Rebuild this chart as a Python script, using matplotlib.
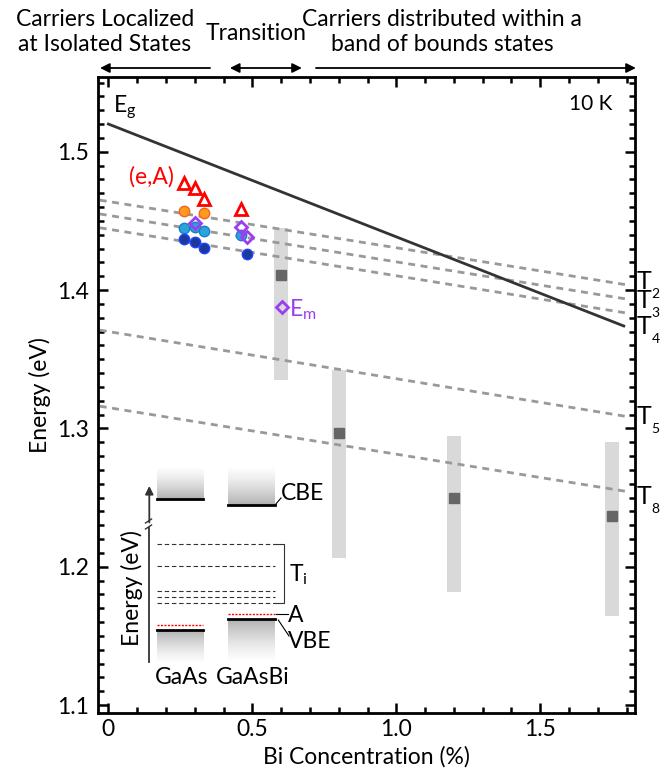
import numpy as np
import matplotlib
matplotlib.use("Agg")
import matplotlib.pyplot as plt
from matplotlib.ticker import MultipleLocator, FixedLocator

plt.rcParams['font.family'] = ['Lato', 'DejaVu Sans']
plt.rcParams['mathtext.fontset'] = 'custom'
plt.rcParams['mathtext.rm'] = 'Lato'
plt.rcParams['mathtext.it'] = 'Lato:italic'

# band gap line (end points)
eg_x = [0.0, 1.79]
eg_y = [1.520, 1.374]

# trap levels T2..T8 (end points)
trap_x = [-0.03, 1.805]
t2_y = [1.465, 1.4036]
t3_y = [1.455, 1.3933]
t4_y = [1.445, 1.3832]
t5_y = [1.371, 1.3084]
t8_y = [1.316, 1.2542]
trap_labels = ['2', '3', '4', '5', '8']

# (e,A) transitions
ea_x = [0.263, 0.301, 0.333, 0.462]
ea_y = [1.4772, 1.4735, 1.4656, 1.4584]
# PL peaks (circles)
orange_x = [0.263, 0.333]
orange_y = [1.4573, 1.4555]
lblue_x = [0.263, 0.301, 0.333, 0.462]
lblue_y = [1.4450, 1.4458, 1.4429, 1.4398]
dblue_x = [0.263, 0.301, 0.333, 0.481]
dblue_y = [1.4367, 1.4347, 1.4306, 1.4258]
# diamonds
diam_x = [0.301, 0.462, 0.481]
diam_y = [1.4487, 1.4453, 1.4385]
em_x = [0.602]
em_y = [1.3879]

# broad bands (range and peak)
band_x = [0.6, 0.8, 1.2, 1.75]
band_top = [1.4446, 1.3422, 1.2944, 1.2901]
band_bot = [1.3349, 1.2062, 1.1816, 1.1643]
band_peak = [1.4108, 1.2966, 1.2494, 1.2364]

# schematic trap levels in the inset
ti_levels = [84.3, 106, 130.7, 136.7, 142.7]

W, H = 663, 771
fig = plt.figure(figsize=(W / 100, H / 100), dpi=100)
ax = fig.add_axes([98.3 / W, 1 - 713.3 / H, (635 - 98.3) / W, (713.3 - 77) / H])

purple = '#9b3ef0'
fs = 16.5

ax.bar(band_x, np.array(band_top) - np.array(band_bot), bottom=band_bot,
       width=0.048, color='#d9d9d9', zorder=1)
for ty in [t2_y, t3_y, t4_y, t5_y, t8_y]:
    ax.plot(trap_x, ty, ls=(0, (2.5, 2.0)), color='#999999', lw=2, zorder=2)
ax.plot(eg_x, eg_y, color='#333333', lw=2, zorder=3)
ax.plot(band_x, band_peak, 's', ms=6.5, color='#666666', ls='none', zorder=4)

ax.plot(ea_x, ea_y, '^', ms=9, mfc='none', mec='red', mew=2, ls='none', zorder=5)
ax.plot(orange_x, orange_y, 'o', ms=7.5, mfc='#ff9a1a', mec='#f26522', mew=1, ls='none', zorder=5)
ax.plot(lblue_x, lblue_y, 'o', ms=7.5, mfc='#2aa3dc', mec='#1a7fc9', mew=1, ls='none', zorder=5)
ax.plot(dblue_x, dblue_y, 'o', ms=7.5, mfc='#1c3a9c', mec='#1f44ff', mew=1, ls='none', zorder=5)
ax.plot(diam_x, diam_y, 'D', ms=6.5, mfc='none', mec=purple, mew=2, ls='none', zorder=6)
ax.plot(em_x, em_y, 'D', ms=6.5, mfc='none', mec=purple, mew=2, ls='none', zorder=6)

ax.set_xlim(-0.035, 1.829)
ax.set_ylim(1.094, 1.554)
ax.xaxis.set_major_locator(FixedLocator([0, 0.5, 1.0, 1.5]))
ax.set_xticklabels(['0', '0.5', '1.0', '1.5'])
ax.xaxis.set_minor_locator(MultipleLocator(0.1))
ax.yaxis.set_major_locator(MultipleLocator(0.1))
ax.yaxis.set_minor_locator(MultipleLocator(0.01))
ax.tick_params(which='both', direction='in', top=True, right=True, width=1.8)
ax.tick_params(which='major', length=7, labelsize=fs)
ax.tick_params(which='minor', length=4)
ax.tick_params(axis='y', pad=7)
ax.tick_params(axis='x', pad=4)
for s in ax.spines.values():
    s.set_linewidth(2)

ax.set_xlabel('Bi Concentration (%)', fontsize=fs)
ax.set_ylabel('Energy (eV)', fontsize=fs)
ax.xaxis.set_label_coords(0.5, -0.052)
ax.yaxis.set_label_coords(-0.088, 0.5)

ax.text(0.017, 1.532, r'E$_\mathrm{g}$', fontsize=fs, va='center')
ax.text(1.752, 1.5345, '10 K', fontsize=15, ha='right', va='center')
ax.text(0.072, 1.4817, '(e,A)', fontsize=fs, color='red', va='center')
ax.text(0.627, 1.3855, r'E$_\mathrm{m}$', fontsize=fs, color=purple, va='center')

# right side trap labels: big T with small index below right
lab_y = [1.4058, 1.3921, 1.3733, 1.3086, 1.2507]
for lab, yy in zip(trap_labels, lab_y):
    ax.text(1.834, yy, 'T', fontsize=18, va='center', clip_on=False)
    ax.annotate(lab, xy=(1.834, yy), xytext=(10.8, -9), textcoords='offset points',
                fontsize=10, ha='left', va='center', annotation_clip=False)

# header arrows and captions
ya = 1.5605
arr = dict(lw=1.3, color='k', shrinkA=0, shrinkB=0, mutation_scale=14)
ax.annotate('', xy=(-0.029, ya), xytext=(0.353, ya), annotation_clip=False,
            arrowprops=dict(arrowstyle='-|>', **arr))
ax.annotate('', xy=(0.422, ya), xytext=(0.672, ya), annotation_clip=False,
            arrowprops=dict(arrowstyle='<|-|>', **arr))
ax.annotate('', xy=(1.832, ya), xytext=(0.721, ya), annotation_clip=False,
            arrowprops=dict(arrowstyle='-|>', **arr))
fig.text(105 / W, 1 - 32 / H, 'Carriers Localized\nat Isolated States', fontsize=fs,
         ha='center', va='center', linespacing=1.25)
fig.text(256 / W, 1 - 33 / H, 'Transition', fontsize=fs, ha='center', va='center')
fig.text(442 / W, 1 - 32 / H, 'Carriers distributed within a\nband of bounds states',
         fontsize=fs, ha='center', va='center', linespacing=1.25)

# inset band diagram
ins = fig.add_axes([100 / W, 1 - 700 / H, 240 / W, 240 / H])
ins.set_xlim(0, 240)
ins.set_ylim(240, 0)
ins.axis('off')
grad = np.linspace(0.02, 0.42, 64).reshape(-1, 1)
ins.imshow(grad, cmap='Greys', vmin=0, vmax=1, extent=(56.7, 103.3, 39.3, 8.3), aspect='auto')
ins.imshow(grad, cmap='Greys', vmin=0, vmax=1, extent=(128.3, 175, 45, 8.3), aspect='auto')
ins.imshow(grad[::-1], cmap='Greys', vmin=0, vmax=1, extent=(56.7, 103.3, 202, 170), aspect='auto')
ins.imshow(grad[::-1], cmap='Greys', vmin=0, vmax=1, extent=(128.3, 175, 200, 159), aspect='auto')
ins.plot([56.7, 103.3], [39.3, 39.3], color='k', lw=2)
ins.plot([128.3, 175], [45, 45], color='k', lw=2)
ins.plot([56.7, 103.3], [170, 170], color='k', lw=2)
ins.plot([128.3, 175], [159, 159], color='k', lw=2)
ins.plot([56.7, 103.3], [165, 165], color='red', lw=1, ls=(0, (1.5, 1)))
ins.plot([128.3, 175], [154.3, 154.3], color='red', lw=1, ls=(0, (1.5, 1)))
for lv in ti_levels:
    ins.plot([56.7, 175], [lv, lv], color='#333333', lw=0.8, ls=(0, (4, 2.5)))
ins.plot([175, 184.3, 184.3, 175], [84.3, 84.3, 142.7, 142.7], color='#333333', lw=0.8)
ins.text(189, 115, r'T$_\mathrm{i}$', fontsize=fs, va='center')
ins.plot([175, 181], [45, 38], color='k', lw=0.8)
ins.text(181, 33.3, 'CBE', fontsize=fs, va='center')
ins.plot([176, 188], [154.3, 154.3], color='k', lw=0.8)
ins.text(188, 155, 'A', fontsize=fs, va='center')
ins.plot([178.3, 189], [160, 176], color='k', lw=0.8)
ins.text(188, 182, 'VBE', fontsize=fs, va='center')
ins.plot([49.3, 49.3], [201.7, 67.5], color='#333333', lw=1.3)
ins.annotate('', xy=(49.3, 26), xytext=(49.3, 62.5),
             arrowprops=dict(arrowstyle='-|>', lw=1.3, color='#333333', shrinkA=0, shrinkB=0,
                             mutation_scale=12))
ins.plot([45.5, 51.5], [63, 59], color='#333333', lw=1)
ins.plot([45.5, 51.5], [69, 65], color='#333333', lw=1)
ins.text(31.7, 128, 'Energy (eV)', fontsize=fs, rotation=90, ha='center', va='center')
ins.text(81.7, 217, 'GaAs', fontsize=fs, ha='center', va='center')
ins.text(153, 217, 'GaAsBi', fontsize=fs, ha='center', va='center')

fig.savefig('out.png', dpi=100)
